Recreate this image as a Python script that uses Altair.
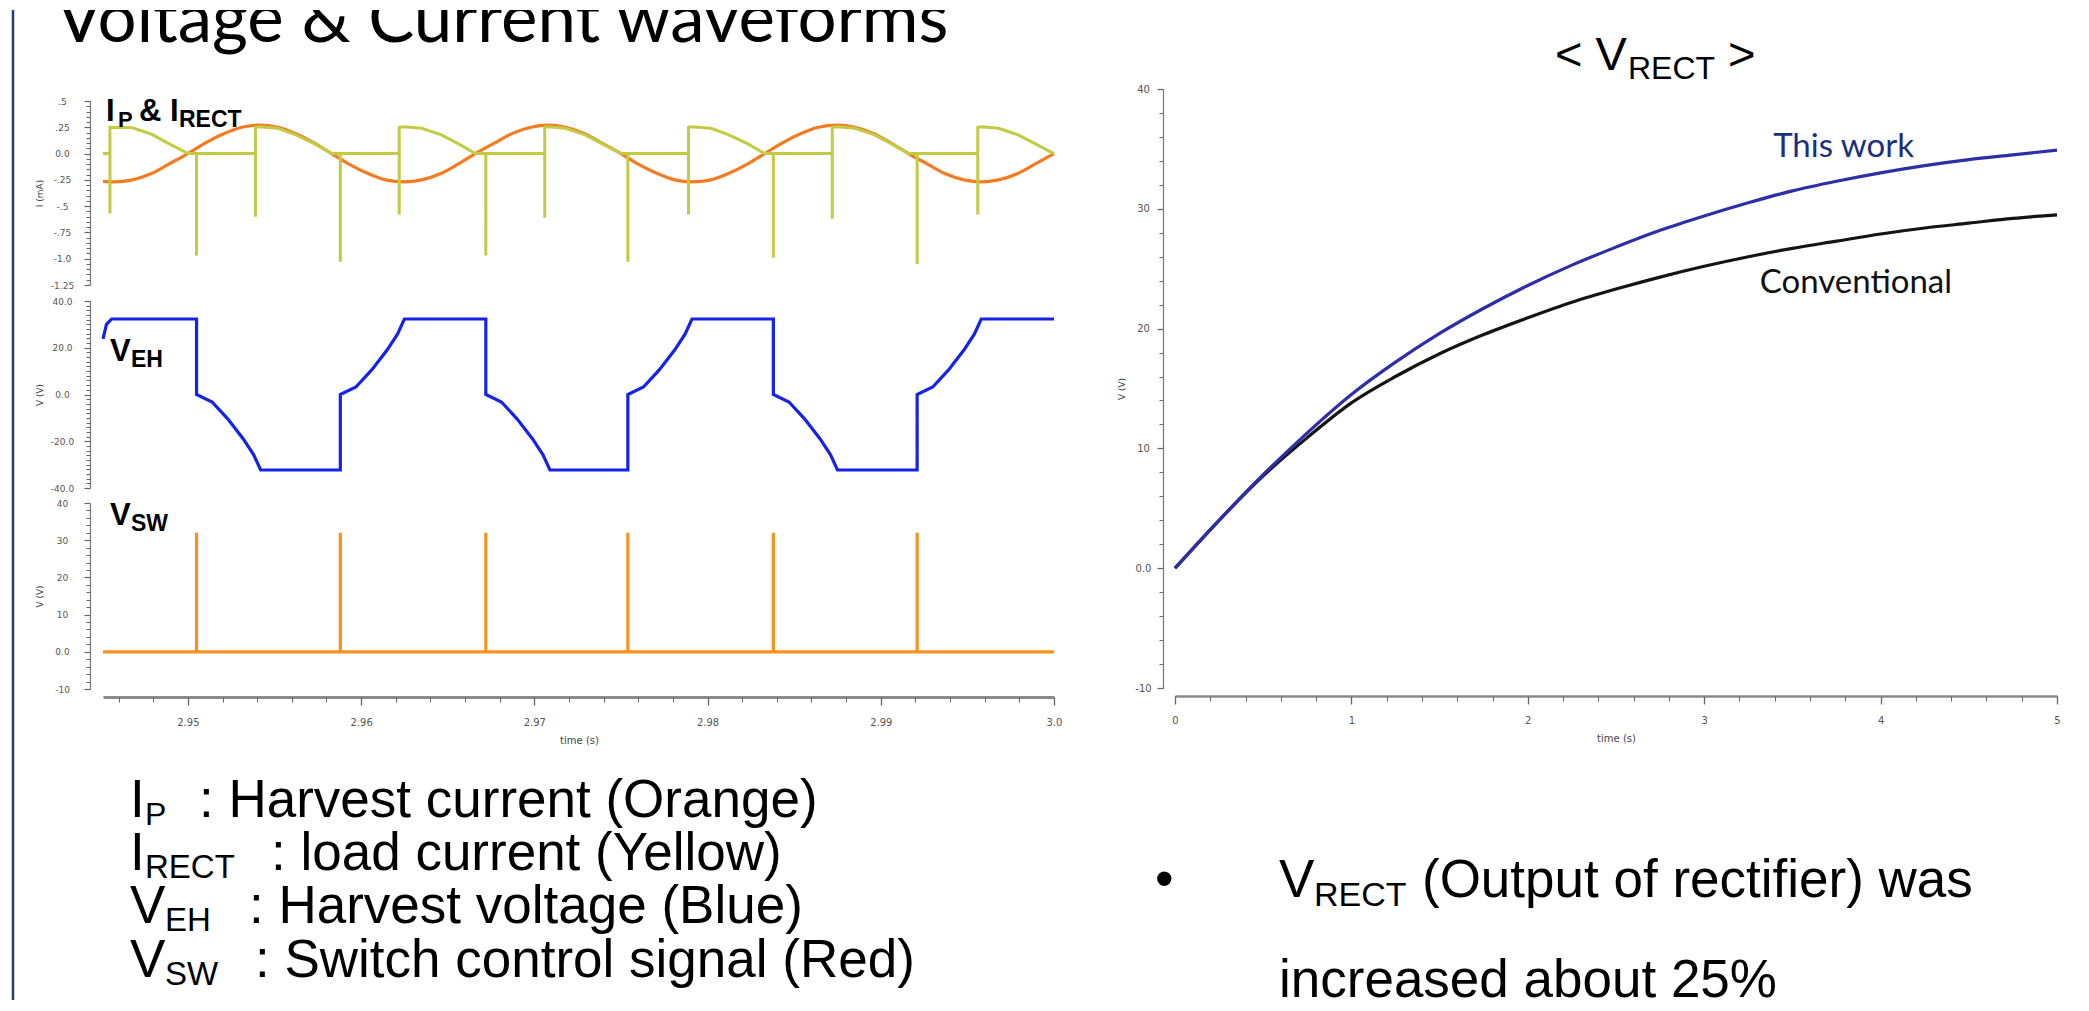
import altair as alt
import pandas as pd

W, H = 2065, 990

# ---------------- values ----------------
# left, top panel: harvest current I_P (mA)
IP_T = [2.9451, 2.9458, 2.9468, 2.9479, 2.9489, 2.9500, 2.9510, 2.9521, 2.9531, 2.9541,
        2.9552, 2.9562, 2.9573, 2.9583, 2.9593, 2.9604, 2.9614, 2.9625, 2.9635, 2.9646,
        2.9656, 2.9666, 2.9677, 2.9687, 2.9698, 2.9708, 2.9718, 2.9729, 2.9739, 2.9750,
        2.9760, 2.9771, 2.9781, 2.9791, 2.9802, 2.9812, 2.9823, 2.9833, 2.9843, 2.9854,
        2.9864, 2.9875, 2.9885, 2.9896, 2.9906, 2.9916, 2.9927, 2.9937, 2.9948, 2.9958,
        2.9968, 2.9979, 2.9989, 3.0000]
IP_V = [-0.265,
        -0.27, -0.25, -0.19, -0.10, 0.00, 0.10, 0.19, 0.25, 0.27, 0.25, 0.19, 0.10, 0.00, -0.10, -0.19, -0.25,
        -0.27, -0.25, -0.19, -0.10, 0.00, 0.10, 0.19, 0.25, 0.27, 0.25, 0.19, 0.10, 0.00, -0.10, -0.19, -0.25,
        -0.27, -0.25, -0.19, -0.10, 0.00, 0.10, 0.19, 0.25, 0.27, 0.25, 0.19, 0.10, 0.00, -0.10, -0.19, -0.25,
        -0.27, -0.25, -0.19, -0.10, 0.00]

# left, top panel: load current I_RECT (mA)
IR_T = [2.9451, 2.9455, 2.9455, 2.9455, 2.9468, 2.9479, 2.9489, 2.9500, 2.9505, 2.9505, 2.9505,
        2.9539, 2.9539, 2.9539, 2.9541, 2.9552, 2.9562, 2.9573, 2.9583, 2.9588, 2.9588, 2.9588,
        2.9622, 2.9622, 2.9622, 2.9625, 2.9635, 2.9646, 2.9656, 2.9666, 2.9672, 2.9672, 2.9672,
        2.9706, 2.9706, 2.9706, 2.9708, 2.9718, 2.9729, 2.9739, 2.9750, 2.9754, 2.9754, 2.9754,
        2.9789, 2.9789, 2.9789, 2.9791, 2.9802, 2.9812, 2.9823, 2.9833, 2.9838, 2.9838, 2.9838,
        2.9872, 2.9872, 2.9872, 2.9875, 2.9885, 2.9896, 2.9906, 2.9916, 2.9921, 2.9921, 2.9921,
        2.9956, 2.9956, 2.9956, 2.9958, 2.9968, 2.9979, 2.9989, 3.0000]
IR_V = [0.0, 0.0, -0.57, 0.25, 0.245, 0.185, 0.095, 0.0, 0.0, -0.97, 0.0,
        0.0, -0.60, 0.25, 0.255, 0.24, 0.18, 0.095, 0.0, 0.0, -1.03, 0.0,
        0.0, -0.58, 0.25, 0.255, 0.24, 0.18, 0.095, 0.0, 0.0, -0.97, 0.0,
        0.0, -0.61, 0.25, 0.255, 0.24, 0.18, 0.095, 0.0, 0.0, -1.03, 0.0,
        0.0, -0.58, 0.25, 0.255, 0.24, 0.18, 0.095, 0.0, 0.0, -0.99, 0.0,
        0.0, -0.62, 0.25, 0.255, 0.24, 0.18, 0.095, 0.0, 0.0, -1.05, 0.0,
        0.0, -0.58, 0.25, 0.255, 0.24, 0.18, 0.095, 0.0]

# left, middle panel: harvest voltage V_EH (V)
VEH_T = [2.9451, 2.9453, 2.9456, 2.9505, 2.9505, 2.9514, 2.9523, 2.9532, 2.9538, 2.9542,
         2.9588, 2.9588, 2.9597, 2.9606, 2.9615, 2.9621, 2.9625,
         2.9672, 2.9672, 2.9681, 2.9690, 2.9699, 2.9705, 2.9709,
         2.9754, 2.9754, 2.9763, 2.9772, 2.9781, 2.9787, 2.9791,
         2.9838, 2.9838, 2.9847, 2.9856, 2.9865, 2.9871, 2.9875,
         2.9921, 2.9921, 2.9930, 2.9939, 2.9948, 2.9954, 2.9958, 3.0000]
VEH_V = [23.8, 30.0, 32.3, 32.3, 0.0, -3.2, -10.4, -19.0, -25.8, -32.3,
         -32.3, 0.0, 3.2, 10.4, 19.0, 25.8, 32.3,
         32.3, 0.0, -3.2, -10.4, -19.0, -25.8, -32.3,
         -32.3, 0.0, 3.2, 10.4, 19.0, 25.8, 32.3,
         32.3, 0.0, -3.2, -10.4, -19.0, -25.8, -32.3,
         -32.3, 0.0, 3.2, 10.4, 19.0, 25.8, 32.3, 32.3]

# left, bottom panel: switch control signal V_SW (V)
VSW_T = [2.9451, 2.9505, 2.9505, 2.9505, 2.9588, 2.9588, 2.9588, 2.9672, 2.9672, 2.9672,
         2.9754, 2.9754, 2.9754, 2.9838, 2.9838, 2.9838, 2.9921, 2.9921, 2.9921, 3.0000]
VSW_V = [0, 0, 32, 0, 0, 32, 0, 0, 32, 0, 0, 32, 0, 0, 32, 0, 0, 32, 0, 0]

# right panel: V_RECT (V)
R_T = [0, 0.25, 0.5, 0.75, 1.0, 1.25, 1.5, 1.75, 2.0, 2.25, 2.5,
       2.75, 3.0, 3.25, 3.5, 3.75, 4.0, 4.25, 4.5, 4.75, 5.0]
R_THIS = [0, 4.0, 7.8, 11.3, 14.5, 17.2, 19.6, 21.7, 23.6, 25.3, 26.8,
          28.2, 29.4, 30.5, 31.5, 32.3, 33.0, 33.6, 34.1, 34.5, 34.9]
R_CONV = [0, 4.0, 7.7, 10.9, 13.8, 16.0, 17.9, 19.5, 20.9, 22.2, 23.3,
          24.3, 25.2, 26.0, 26.7, 27.3, 27.9, 28.4, 28.8, 29.2, 29.5]

# tick labels
TOP_TICKS = [0.5, 0.25, 0.0, -0.25, -0.5, -0.75, -1.0, -1.25]
TOP_LABELS = [".5", ".25", "0.0", "-.25", "-.5", "-.75", "-1.0", "-1.25"]
MID_TICKS = [40, 20, 0, -20, -40]
MID_LABELS = ["40.0", "20.0", "0.0", "-20.0", "-40.0"]
BOT_TICKS = [40, 30, 20, 10, 0, -10]
BOT_LABELS = ["40", "30", "20", "10", "0.0", "-10"]
LX_TICKS = [2.95, 2.96, 2.97, 2.98, 2.99, 3.0]
LX_LABELS = ["2.95", "2.96", "2.97", "2.98", "2.99", "3.0"]
RY_TICKS = [40, 30, 20, 10, 0, -10]
RY_LABELS = ["40", "30", "20", "10", "0.0", "-10"]
RX_TICKS = [0, 1, 2, 3, 4, 5]
RX_LABELS = ["0", "1", "2", "3", "4", "5"]

# ---------------- layout (scale domains -> pixel ranges) ----------------
LX = ([2.9451, 3.0], [95, 1046])
TOPY = ([-1.25, 0.5], [275, 91])
MIDY = ([-40, 40], [478, 291])
BOTY = ([-10, 40], [679, 493])
RX = ([0, 5], [1167, 2049])
RY = ([-10, 40], [678, 79])
SLX = ([8, W + 8], [0, W])
SLY = ([8, H + 8], [0, H])

AXF = "DejaVu Sans"
ARIAL = "Liberation Sans"
CAL = "Lato"


def sc(d):
    return alt.Scale(domain=d[0], range=d[1], nice=False, zero=False)


def steps(a, b, s):
    n = int(round((b - a) / s))
    return [round(a + k * s, 6) for k in range(n + 1)]


def lexpr(vals, labs):
    parts = [f"abs(datum.value - ({v})) < 1e-7 ? '{l}'" for v, l in zip(vals, labs)]
    return " : ".join(parts) + " : ''"


def yaxis(vals, labs, title, tx, ty, offset, pad, fs=9):
    return alt.Axis(orient="left", offset=offset, values=vals, labelExpr=lexpr(vals, labs),
                    title=title, titleX=tx, titleY=ty, titleAngle=270, titleAlign="center",
                    titleBaseline="middle", titleFont=AXF, titleFontSize=9, titleFontWeight="normal",
                    titleColor="#444", labelFont=AXF, labelFontSize=fs, labelColor="#555",
                    labelAlign="center", labelBaseline="middle", labelPadding=pad,
                    labelFlush=False, labelOverlap=False, tickSize=6, tickColor="#666",
                    tickWidth=1.2, domainColor="#777", domainWidth=1.2, grid=False)


def xaxis(vals, labs, title, tx, ty, offset, pad, dw):
    return alt.Axis(orient="bottom", offset=offset, values=vals, labelExpr=lexpr(vals, labs),
                    title=title, titleX=tx, titleY=ty, titleAlign="center", titleBaseline="middle",
                    titleFont=AXF, titleFontSize=10, titleFontWeight="normal", titleColor="#444",
                    labelFont=AXF, labelFontSize=10, labelColor="#555", labelBaseline="middle",
                    labelPadding=pad, labelFlush=False, labelOverlap=False, tickSize=8,
                    tickColor="#666", tickWidth=1.3, domainColor="#8a8a8a", domainWidth=dw, grid=False)


def minor(orient, offset, vals, size=4):
    return alt.Axis(orient=orient, offset=offset, values=vals, labels=False, domain=False,
                    title=None, tickSize=size, tickColor="#666", tickWidth=1, grid=False)


def line(t, v, xs, ys, color, width, xax=None, yax=None, interp="linear"):
    df = pd.DataFrame({"t": t, "v": v, "i": list(range(len(t)))})
    return alt.Chart(df).mark_line(color=color, strokeWidth=width, interpolate=interp).encode(
        x=alt.X("t:Q", scale=sc(xs), axis=xax),
        y=alt.Y("v:Q", scale=sc(ys), axis=yax),
        order=alt.Order("i:Q"),
    )


def dummy(xs, ys, xax=None, yax=None):
    df = pd.DataFrame({"t": xs[0], "v": ys[0]})
    return alt.Chart(df).mark_point(opacity=0).encode(
        x=alt.X("t:Q", scale=sc(xs), axis=xax),
        y=alt.Y("v:Q", scale=sc(ys), axis=yax),
    )


def txt(x, y, s, xs, ys, size, font, weight="normal", color="black", align="left",
        dx=0, dy=0, clip=False):
    df = pd.DataFrame({"x": [x], "y": [y], "s": [s]})
    return alt.Chart(df).mark_text(align=align, baseline="alphabetic", font=font, fontSize=size,
                                   fontWeight=weight, color=color, dx=dx, dy=dy, clip=clip).encode(
        x=alt.X("x:Q", scale=sc(xs), axis=None),
        y=alt.Y("y:Q", scale=sc(ys), axis=None),
        text="s:N",
    )


layers = []

# ---- left top panel: I_P & I_RECT ----
layers.append(line(IP_T, IP_V, LX, TOPY, "#F47B20", 3.2, interp="monotone",
                   yax=yaxis(TOP_TICKS, TOP_LABELS, "I (mA)", -51, 183, -82, 22)))
layers.append(line(IR_T, IR_V, LX, TOPY, "#C3CA44", 3))
layers.append(dummy(LX, TOPY, yax=minor("left", -82, steps(-1.25, 0.5, 0.05))))

# ---- left middle panel: V_EH ----
layers.append(line(VEH_T, VEH_V, LX, MIDY, "#1423E6", 3.2,
                   yax=yaxis(MID_TICKS, MID_LABELS, "V (V)", -51, 384.5, -82, 22)))
layers.append(dummy(LX, MIDY, yax=minor("left", -82, steps(-40, 40, 2))))

# ---- left bottom panel: V_SW (+ time axis) ----
layers.append(line(VSW_T, VSW_V, LX, BOTY, "#F8921E", 3.2,
                   yax=yaxis(BOT_TICKS, BOT_LABELS, "V (V)", -51, 586, -82, 22),
                   xax=xaxis(LX_TICKS, LX_LABELS, "time (s)", 571, 43, 687 - H, 17, 3)))
layers.append(dummy(LX, BOTY, yax=minor("left", -82, steps(-10, 40, 2)),
                    xax=minor("bottom", 687 - H, steps(2.946, 3.0, 0.002), 5)))

# ---- right panel: V_RECT ----
layers.append(line(R_T, R_CONV, RX, RY, "#141414", 3.2, interp="monotone"))
layers.append(line(R_T, R_THIS, RX, RY, "#2E2EA8", 3.2, interp="monotone",
                   yax=yaxis(RY_TICKS, RY_LABELS, "V (V)", -42, 378.5, -1155, 14, fs=10),
                   xax=xaxis(RX_TICKS, RX_LABELS, "time (s)", 1608, 42, 686 - H, 16, 2.5)))
layers.append(dummy(RX, RY, yax=minor("left", -1155, steps(-10, 40, 2)),
                    xax=minor("bottom", 686 - H, steps(0, 5, 0.2), 5)))

# ---- labels inside the panels ----
layers += [
    txt(2.94527, 0.31, "I", LX, TOPY, 31, ARIAL, "bold"),
    txt(2.94527, 0.31, "P", LX, TOPY, 22, ARIAL, "bold", dx=12, dy=6),
    txt(2.94527, 0.31, "& I", LX, TOPY, 31, ARIAL, "bold", dx=33),
    txt(2.94527, 0.31, "RECT", LX, TOPY, 23, ARIAL, "bold", dx=73, dy=6),
    txt(2.9455, 14.3, "V", LX, MIDY, 31, ARIAL, "bold"),
    txt(2.9455, 14.3, "EH", LX, MIDY, 23, ARIAL, "bold", dx=21, dy=6),
    txt(2.9455, 34.1, "V", LX, BOTY, 31, ARIAL, "bold"),
    txt(2.9455, 34.1, "SW", LX, BOTY, 23, ARIAL, "bold", dx=21, dy=6),
    txt(3.79, 34.3, "This work", RX, RY, 33, CAL, color="#1B2F7E", align="center"),
    txt(3.86, 23.0, "Conventional", RX, RY, 33, CAL, color="#111111", align="center"),
]

# ---- slide texts (page coordinates) ----
layers += [
    txt(56, 40, "Voltage & Current waveforms", SLX, SLY, 69, CAL, clip=True),
    txt(1555, 68, "< V", SLX, SLY, 47, ARIAL),
    txt(1628, 77, "RECT", SLX, SLY, 32, ARIAL),
    txt(1728, 68, ">", SLX, SLY, 47, ARIAL),
    # legend lines
    txt(130, 815, "I", SLX, SLY, 53, ARIAL, clip=True),
    txt(145, 823, "P", SLX, SLY, 32, ARIAL, clip=True),
    txt(199, 815, ": Harvest current (Orange)", SLX, SLY, 53, ARIAL, clip=True),
    txt(130, 868, "I", SLX, SLY, 53, ARIAL, clip=True),
    txt(145, 876, "RECT", SLX, SLY, 33, ARIAL, clip=True),
    txt(271, 868, ": load current (Yellow)", SLX, SLY, 53, ARIAL, clip=True),
    txt(130, 921, "V", SLX, SLY, 53, ARIAL, clip=True),
    txt(165, 929, "EH", SLX, SLY, 33, ARIAL, clip=True),
    txt(249, 921, ": Harvest voltage (Blue)", SLX, SLY, 53, ARIAL, clip=True),
    txt(130, 975, "V", SLX, SLY, 53, ARIAL, clip=True),
    txt(165, 983, "SW", SLX, SLY, 33, ARIAL, clip=True),
    txt(255, 975, ": Switch control signal (Red)", SLX, SLY, 53, ARIAL, clip=True),
    # bullet
    txt(1155, 895, "\u2022", SLX, SLY, 53, ARIAL, clip=True),
    txt(1279, 895, "V", SLX, SLY, 53, ARIAL, clip=True),
    txt(1314, 904, "RECT", SLX, SLY, 34, ARIAL, clip=True),
    txt(1422, 895, "(Output of rectifier) was", SLX, SLY, 53, ARIAL, clip=True),
    txt(1279, 995, "increased about 25%", SLX, SLY, 53, ARIAL, clip=True),
]

# left slide border
border = alt.Chart(pd.DataFrame({"a": [0]})).mark_rule(color="#24406E", strokeWidth=2.5).encode(
    x=alt.value(5), y=alt.value(0), y2=alt.value(H))
layers.append(border)

chart = (
    alt.layer(*layers)
    .resolve_scale(x="independent", y="independent")
    .properties(width=W, height=H, padding=0, background="white")
    .configure_view(stroke=None)
)

chart.save("out.html", embed_options={"renderer": "svg", "actions": False})
